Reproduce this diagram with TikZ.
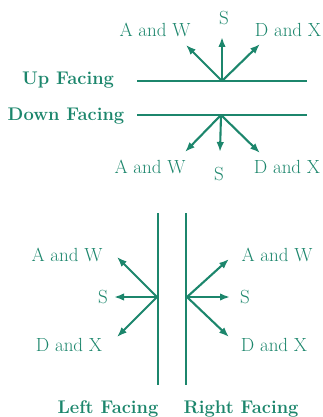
\documentclass[tikz,border=0pt]{standalone}
\usepackage{fontspec}
\usetikzlibrary{arrows.meta}
\definecolor{tealgreen}{RGB}{28,134,108}
\begin{document}
\begin{tikzpicture}[x=1pt,y=-1pt,
  surface/.style={draw=tealgreen,line width=2.4pt},
  dirarrow/.style={draw=tealgreen,line width=2.1pt,-{Latex[length=10pt,width=7.5pt]}},
  lbl/.style={text=tealgreen,inner sep=0pt,font=\fontsize{19}{21}\selectfont},
  title/.style={text=tealgreen,inner sep=0pt,font=\fontsize{18.3}{21}\selectfont\bfseries}]
\useasboundingbox (0,0) rectangle (323,417);
% ---- Up facing
\node[title] (upt) at (68,80) {Up Facing};
\coordinate (uL) at (137,81); \coordinate (uR) at (307,81);
\coordinate (uO) at (222,81);
\coordinate (uA) at (186,45); \coordinate (uS) at (222,37); \coordinate (uD) at (260,44);
\draw[surface] (uL) -- (uR);
\draw[dirarrow] (uO) -- (uA);
\draw[dirarrow] (uO) -- (uS);
\draw[dirarrow] (uO) -- (uD);
\node[lbl] (uAl) at (155,30) {A and W};
\node[lbl] (uSl) at (224,18) {S};
\node[lbl] (uDl) at (288,30) {D and X};
% ---- Down facing
\node[title] (dnt) at (66,116) {Down Facing};
\coordinate (dL) at (137,115); \coordinate (dR) at (307,115);
\coordinate (dO) at (221,115);
\coordinate (dA) at (185,152); \coordinate (dS) at (220,152); \coordinate (dD) at (260,153);
\draw[surface] (dL) -- (dR);
\draw[dirarrow] (dO) -- (dA);
\draw[dirarrow] (dO) -- (dS);
\draw[dirarrow] (dO) -- (dD);
\node[lbl] (dAl) at (150,167) {A and W};
\node[lbl] (dSl) at (219,174) {S};
\node[lbl] (dDl) at (287,167) {D and X};
% ---- Left facing
\coordinate (lT) at (158,213); \coordinate (lB) at (158,385);
\coordinate (lO) at (157,297);
\coordinate (lA) at (117,257); \coordinate (lS) at (114,297); \coordinate (lD) at (117,337);
\draw[surface] (lT) -- (lB);
\draw[dirarrow] (lO) -- (lA);
\draw[dirarrow] (lO) -- (lS);
\draw[dirarrow] (lO) -- (lD);
\node[lbl] (lAl) at (67,255) {A and W};
\node[lbl] (lSl) at (103,297) {S};
\node[lbl] (lDl) at (69,345) {D and X};
\node[title] (lft) at (108,409) {Left Facing};
% ---- Right facing
\coordinate (rT) at (186,213); \coordinate (rB) at (186,385);
\coordinate (rO) at (187,297);
\coordinate (rA) at (229,259); \coordinate (rS) at (230,297); \coordinate (rD) at (229,337);
\draw[surface] (rT) -- (rB);
\draw[dirarrow] (rO) -- (rA);
\draw[dirarrow] (rO) -- (rS);
\draw[dirarrow] (rO) -- (rD);
\node[lbl] (rAl) at (277,255) {A and W};
\node[lbl] (rSl) at (245,297) {S};
\node[lbl] (rDl) at (274,345) {D and X};
\node[title] (rgt) at (241,409) {Right Facing};
\end{tikzpicture}
\end{document}
